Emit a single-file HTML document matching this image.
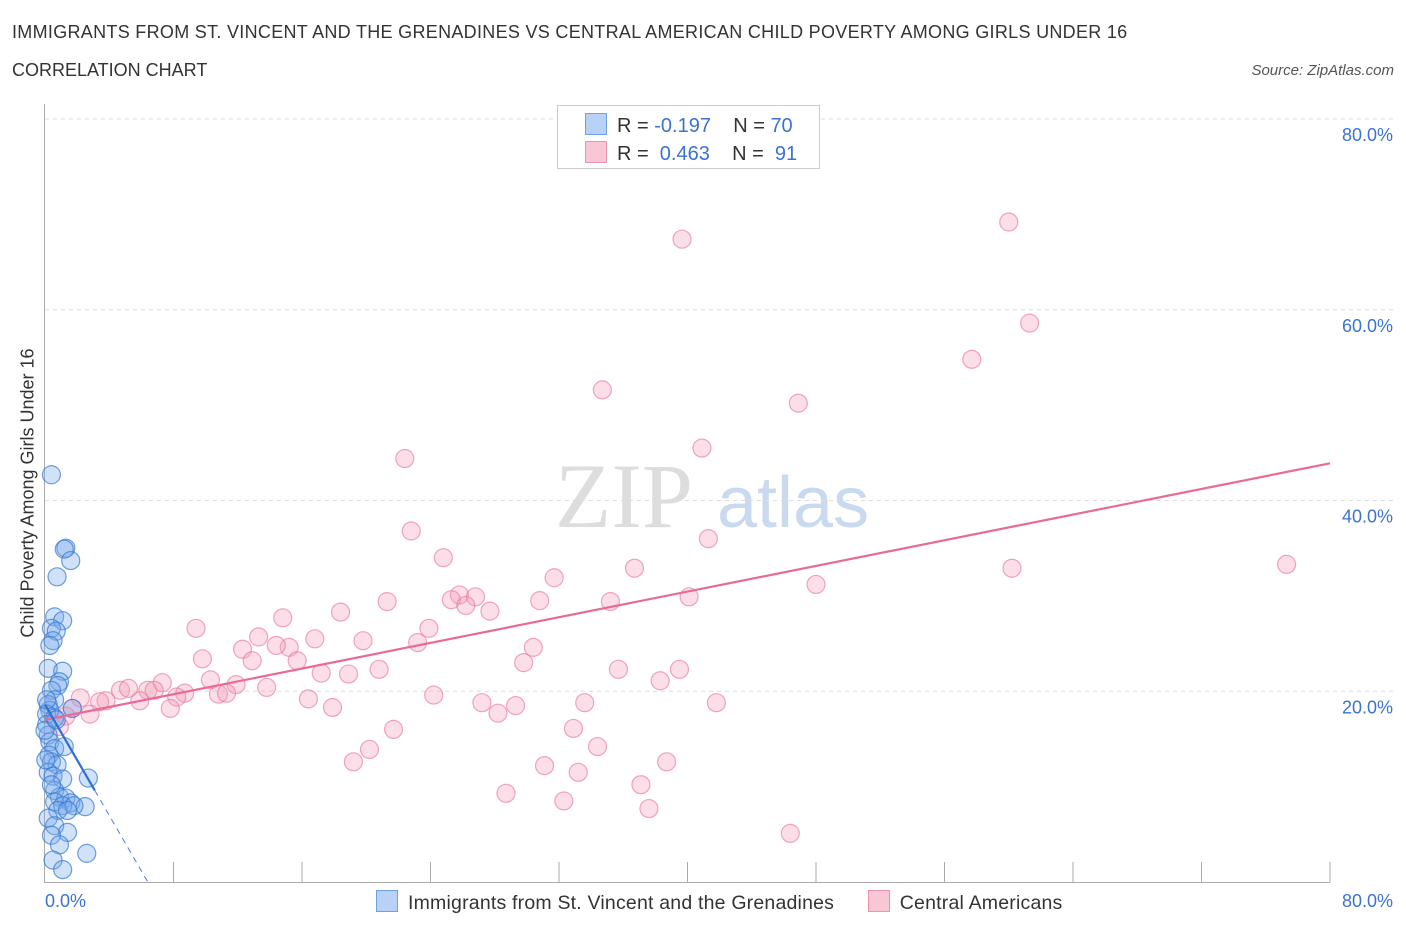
<!DOCTYPE html>
<html><head><meta charset="utf-8"><style>
body{margin:0;width:1406px;height:930px;background:#fff;font-family:"Liberation Sans",sans-serif;overflow:hidden;position:relative}
.t{position:absolute;white-space:nowrap}
</style></head><body>
<div class="t" style="left:12px;top:22px;font-size:18px;letter-spacing:0.3px;color:#333">IMMIGRANTS FROM ST. VINCENT AND THE GRENADINES VS CENTRAL AMERICAN CHILD POVERTY AMONG GIRLS UNDER 16</div>
<div class="t" style="left:12px;top:60px;font-size:18px;color:#333">CORRELATION CHART</div>
<div class="t" style="right:12px;top:62px;font-size:15px;font-style:italic;color:#555">Source: ZipAtlas.com</div>
<svg id="chart" width="1406" height="930" style="position:absolute;left:0;top:0"></svg>
<script>
const blueX=[0.4,1.3,1.2,1.6,0.75,0.6,1.1,0.4,0.7,0.5,0.3,0.2,1.1,0.9,0.8,0.4,0.6,0.2,1.7,0.3,0.1,0.6,0.1,0.2,0.3,0.6,1.2,0.25,0.4,0.75,0.2,0.5,1.1,2.7,0.6,0.9,1.3,0.6,1.6,1.1,2.5,1.8,0.8,1.4,0.2,0.6,1.4,0.4,0.9,2.6,0.5,1.1,0,0.1,0.05,0.4,0.7];
const blueY=[42.7,35.0,34.9,33.7,32.0,27.8,27.4,26.6,26.3,25.3,24.8,22.4,22.1,21.0,20.6,20.1,19.1,18.6,18.2,18.0,17.6,17.2,16.5,15.4,14.7,14.0,14.2,13.3,12.6,12.3,11.5,11.1,10.8,10.9,9.6,8.9,8.8,8.4,8.3,8.0,7.9,8.0,7.5,7.5,6.7,5.9,5.2,4.9,3.9,3.0,2.3,1.3,15.9,19.1,12.8,10.2,17.0];
const pinkX=[39.66,60.0,61.3,57.7,34.7,46.9,40.9,22.4,22.8,41.3,24.8,77.3,60.2,36.7,31.7,48.0,25.8,26.8,25.3,40.1,30.8,21.3,35.2,26.2,27.7,18.4,14.8,9.4,23.9,30.4,13.3,16.8,19.8,23.2,12.3,15.2,14.4,9.8,12.9,15.7,29.8,35.7,39.5,20.8,17.2,18.9,38.3,10.3,11.9,7.3,13.8,4.7,5.2,6.4,6.8,8.7,8.2,10.8,11.3,24.2,2.2,3.8,5.9,3.4,16.4,41.8,27.2,33.6,29.3,17.9,7.8,1.7,2.8,28.2,1.3,0.9,21.7,32.9,20.2,34.4,19.2,31.1,38.7,33.2,28.7,37.1,32.3,37.6,46.4];
const pinkY=[67.4,69.2,58.6,54.8,51.6,50.2,45.5,44.4,36.8,36.0,34.0,33.3,32.9,32.9,31.9,31.2,30.1,29.9,29.6,29.9,29.5,29.4,29.4,29.0,28.4,28.3,27.7,26.6,26.6,24.6,25.7,25.5,25.3,25.1,24.4,24.6,24.8,23.4,23.2,23.2,23.0,22.3,22.3,22.3,21.9,21.8,21.1,21.2,20.7,20.9,20.4,20.1,20.3,20.1,20.1,19.8,19.4,19.7,19.8,19.6,19.3,19.0,19.0,18.9,19.2,18.8,18.8,18.8,18.5,18.3,18.2,18.2,17.6,17.7,17.4,16.3,16.0,16.1,13.9,14.2,12.6,12.2,12.6,11.5,9.3,10.2,8.5,7.7,5.1];
const pinkTrend=[[0,17.0],[80,43.9]];
const blueTrendSolid=[[0,18.6],[3.1,9.6]];
const blueTrendDash=[[3.1,9.6],[6.4,0]];
const yTicks=[20,40,60,80];
const xTickVals=[0,8,16,24,32,40,48,56,64,72,80];
const sx=v=>45+v*(1285/80), sy=v=>882-v*(763/80);
const svg=document.getElementById('chart'),NS='http://www.w3.org/2000/svg';
function mk(t,a,p){const e=document.createElementNS(NS,t);for(const k in a)e.setAttribute(k,a[k]);(p||svg).appendChild(e);return e;}
let w=mk('text',{x:555,y:527,'font-size':92,'font-family':'Liberation Serif',fill:'#ddd'});w.textContent='ZIP';


let w2=mk('text',{x:717,y:527,'font-size':72,'font-family':'Liberation Sans',fill:'#c9daf0'});w2.textContent='atlas';


yTicks.forEach(v=>{const l=mk('line',{x1:45,x2:1395,y1:sy(v),y2:sy(v),stroke:'#ddd','stroke-dasharray':'4,4'});


const t=mk('text',{x:1393,y:sy(v)+22,'text-anchor':'end','font-size':18,fill:'#3b73d1'});t.textContent=v.toFixed(1)+'%';

});
mk('line',{x1:44.5,x2:44.5,y1:104,y2:882,stroke:'#aaa'});
mk('line',{x1:44,x2:1330,y1:882.5,y2:882.5,stroke:'#aaa'});
xTickVals.forEach((v,i)=>{if(i==0)return;const l=mk('line',{x1:sx(v),x2:sx(v),y1:862,y2:882,stroke:'#aaa'});

});
function dots(X,Y,fill,stroke,name){X.forEach((x,i)=>{const c=mk('circle',{cx:sx(x),cy:sy(Y[i]),r:9,fill:fill,stroke:stroke,'stroke-width':1.2});

});}
dots(pinkX,pinkY,'rgba(244,160,185,0.35)','rgba(232,110,150,0.6)','central-american-point');
dots(blueX,blueY,'rgba(120,170,235,0.35)','rgba(50,120,210,0.7)','svg-immigrant-point');
function ln(p,col,w,dash,name){const l=mk('line',{x1:sx(p[0][0]),y1:sy(p[0][1]),x2:sx(p[1][0]),y2:sy(p[1][1]),stroke:col,'stroke-width':w});if(dash)l.setAttribute('stroke-dasharray',dash);

}
ln(pinkTrend,'#e8699a',2.2,null,'pink-trend-line');
ln(blueTrendSolid,'#2f6fd0',2.2,null,'blue-trend-line');
ln(blueTrendDash,'#4a7fd6',1,'6,5','blue-trend-extension');
</script>
<div class="t" style="left:45px;top:891px;font-size:18px;color:#3b73d1">0.0%</div>
<div class="t" style="right:13px;top:891px;font-size:18px;color:#3b73d1">80.0%</div>
<div class="t" style="left:28px;top:493px;font-size:18px;color:#333;transform:translate(-50%,-50%) rotate(-90deg)">Child Poverty Among Girls Under 16</div>
<div style="position:absolute;left:557px;top:105px;width:261px;height:62px;border:1px solid #ccc;background:#fff;font-size:20px;color:#333">
<div style="position:absolute;left:27px;top:7px;white-space:nowrap"><span style="display:inline-block;width:20px;height:20px;background:#b7d2f6;border:1px solid #6fa0e6;vertical-align:-3px;margin-right:10px"></span>R = <span style="color:#3b73d1">-0.197</span>&nbsp;&nbsp;&nbsp; N = <span style="color:#3b73d1">70</span></div>
<div style="position:absolute;left:27px;top:35px;white-space:nowrap"><span style="display:inline-block;width:20px;height:20px;background:#f9c6d6;border:1px solid #ea94b1;vertical-align:-3px;margin-right:10px"></span>R = &nbsp;<span style="color:#3b73d1">0.463</span>&nbsp;&nbsp;&nbsp; N = &nbsp;<span style="color:#3b73d1">91</span></div>
</div>
<div style="position:absolute;left:376px;top:890px;font-size:19.5px;letter-spacing:0.2px;color:#333;white-space:nowrap">
<span><span style="display:inline-block;width:20px;height:20px;background:#b7d2f6;border:1px solid #6fa0e6;vertical-align:-3px;margin-right:10px"></span>Immigrants from St. Vincent and the Grenadines</span>
<span style="margin-left:28px"><span style="display:inline-block;width:20px;height:20px;background:#f9c6d6;border:1px solid #ea94b1;vertical-align:-3px;margin-right:10px"></span>Central Americans</span>
</div>
</body></html>
